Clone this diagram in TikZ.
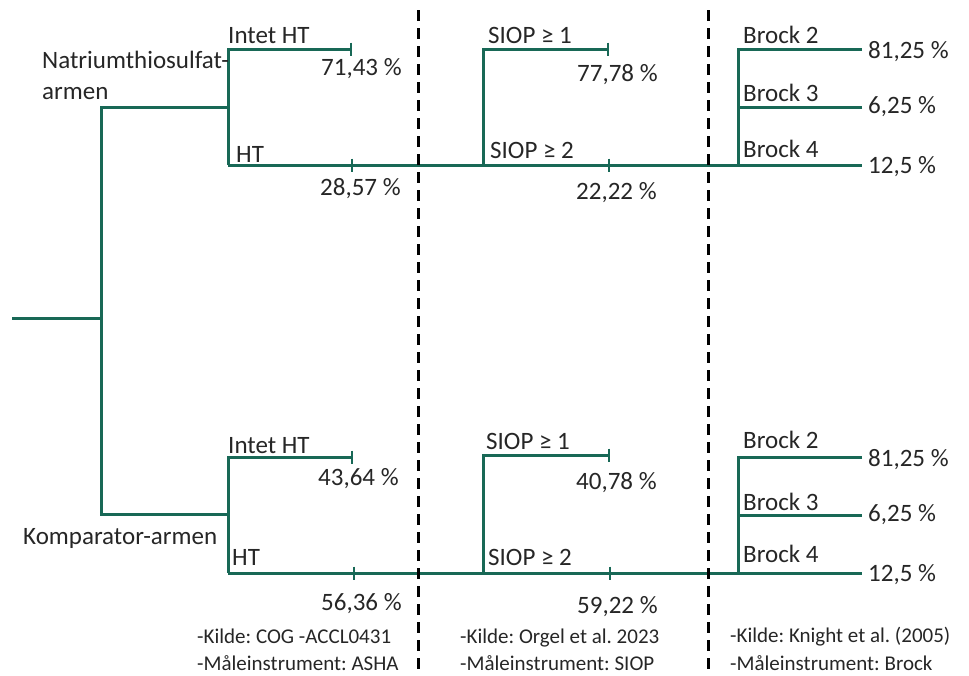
\documentclass[tikz,border=0pt]{standalone}
\usepackage{fontspec}
\setmainfont{Carlito}
\usetikzlibrary{arrows.meta}
\definecolor{tree}{RGB}{24,104,86}
\begin{document}
\frenchspacing
\begin{tikzpicture}[x=1pt,y=-1pt,
  br/.style={draw=tree,line width=3pt},
  endbar/.style={{Bar[width=13pt,line width=2.4pt]}-},
  tickmark/.style={draw=tree,line width=2.4pt},
  lbl/.style={anchor=base west,inner sep=0pt,font=\fontsize{25}{30}\selectfont,text=black!85},
  note/.style={anchor=base west,inner sep=0pt,font=\fontsize{21}{25}\selectfont,text=black!85},
  dsh/.style={draw=black,line width=3pt,dash pattern=on 11pt off 7pt}]
\useasboundingbox (0,0) rectangle (969,675);
% coordinates
\coordinate (root) at (12,318);
\coordinate (r) at (101,318);
\coordinate (aT) at (228,107);
\coordinate (aB) at (228,514);
% top arm
\coordinate (aT2) at (228,165);
\coordinate (nhtT) at (352,49);
\coordinate (tickT) at (352,165);
\coordinate (sT) at (483,165);
\coordinate (sTe) at (609,49);
\coordinate (tickTs) at (609,165);
\coordinate (bT) at (738,165);
\coordinate (eT2) at (862,49);
\coordinate (eT3) at (862,107);
\coordinate (eT4) at (862,165);
% bottom arm
\coordinate (aB2) at (228,573);
\coordinate (nhtB) at (353,457);
\coordinate (tickB) at (354,573);
\coordinate (sB) at (483,573);
\coordinate (sBe) at (610,455);
\coordinate (tickBs) at (610,573);
\coordinate (bB) at (738,573);
\coordinate (eB2) at (862,457);
\coordinate (eB3) at (862,515);
\coordinate (eB4) at (862,573);
% dashed separators
\coordinate (d1t) at (418,10);
\coordinate (d1b) at (418,675);
\coordinate (d2t) at (708,10);
\coordinate (d2b) at (708,675);

% tree lines
\draw[br] (root) -- (r);
\draw[br] (aT) -| (r) |- (aB);
% top
\draw[br,endbar] (nhtT) -| (aT2);
\draw[br] (aT2) -- (eT4);
\draw[br,endbar] (sTe) -| (sT);
\draw[br] (eT2) -| (bT);
\draw[br] (eT3) -| (bT);
\draw[tickmark] (tickT) ++(0,-6.5) -- ++(0,13);
\draw[tickmark] (tickTs) ++(0,-6.5) -- ++(0,13);
% bottom
\draw[br,endbar] (nhtB) -| (aB2);
\draw[br] (aB2) -- (eB4);
\draw[br,endbar] (sBe) -| (sB);
\draw[br] (eB2) -| (bB);
\draw[br] (eB3) -| (bB);
\draw[tickmark] (tickB) ++(0,-6.5) -- ++(0,13);
\draw[tickmark] (tickBs) ++(0,-6.5) -- ++(0,13);
% dashed
\draw[dsh] (d1t) -- (d1b);
\draw[dsh] (d2t) -- (d2b);

% labels top
\node[lbl] (l1) at (228,43) {Intet HT};
\node[lbl] (p1) at (321,75) {71,43 \%};
\node[lbl] (n1) at (42,68) {Natriumthiosulfat-};
\node[lbl] (n2) at (42,99) {armen};
\node[lbl] (l2) at (236,162) {HT};
\node[lbl] (p2) at (320,195) {28,57 \%};
\node[lbl] (s1) at (488,43) {SIOP ≥ 1};
\node[lbl] (p3) at (577,81) {77,78 \%};
\node[lbl] (s2) at (490,158) {SIOP ≥ 2};
\node[lbl] (p4) at (576,199) {22,22 \%};
\node[lbl] (b2) at (743,43) {Brock 2};
\node[lbl] (b3) at (743,101) {Brock 3};
\node[lbl] (b4) at (743,157) {Brock 4};
\node[lbl] (q1) at (868,58) {81,25 \%};
\node[lbl] (q2) at (868,113) {6,25 \%};
\node[lbl] (q3) at (868,173) {12,5 \%};
% labels bottom
\node[lbl] (l3) at (228,453) {Intet HT};
\node[lbl] (p5) at (318,485) {43,64 \%};
\node[lbl] (n3) at (23,544) {Komparator-armen};
\node[lbl] (l4) at (232,565) {HT};
\node[lbl] (p6) at (321,610) {56,36 \%};
\node[lbl] (s3) at (486,449) {SIOP ≥ 1};
\node[lbl] (p7) at (576,489) {40,78 \%};
\node[lbl] (s4) at (488,565) {SIOP ≥ 2};
\node[lbl] (p8) at (577,613) {59,22 \%};
\node[lbl] (b5) at (743,448) {Brock 2};
\node[lbl] (b6) at (743,510) {Brock 3};
\node[lbl] (b7) at (743,562) {Brock 4};
\node[lbl] (q4) at (868,466) {81,25 \%};
\node[lbl] (q5) at (868,521) {6,25 \%};
\node[lbl] (q6) at (868,581) {12,5 \%};
% notes
\node[note] (k1) at (197,643) {-Kilde: COG -ACCL0431};
\node[note] (m1) at (197,670) {-Måleinstrument: ASHA};
\node[note] (k2) at (460,643) {-Kilde: Orgel et al. 2023};
\node[note] (m2) at (460,670) {-Måleinstrument: SIOP};
\node[note] (k3) at (730,642) {-Kilde: Knight et al. (2005)};
\node[note] (m3) at (730,670) {-Måleinstrument: Brock};
\end{tikzpicture}
\end{document}
